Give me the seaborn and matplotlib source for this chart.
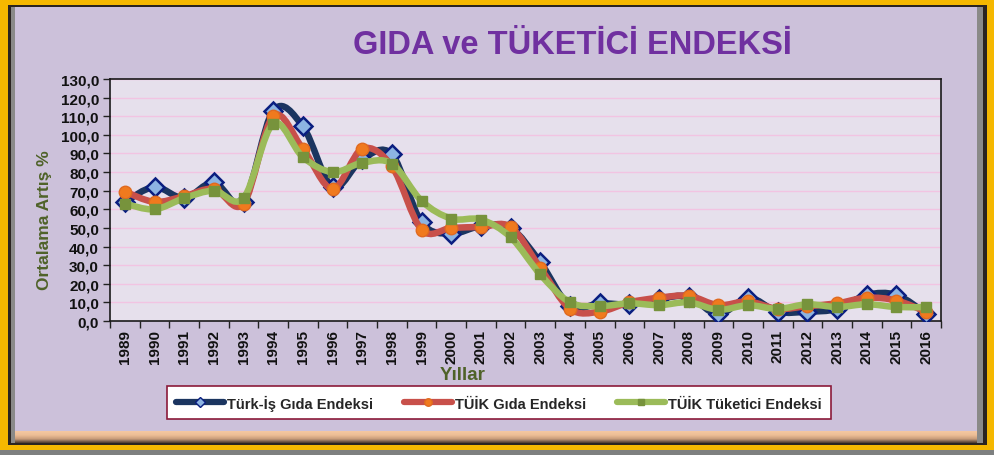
import numpy as np
import pandas as pd
import matplotlib
matplotlib.use("Agg")
import matplotlib.pyplot as plt
import seaborn as sns
from matplotlib.path import Path
from matplotlib.patches import PathPatch, Rectangle
from matplotlib.lines import Line2D
from matplotlib.ticker import FuncFormatter, MultipleLocator
from matplotlib.colors import LinearSegmentedColormap

years = [str(y) for y in range(1989, 2017)]
turkis_gida = [64, 72, 66, 74.5, 64, 113, 104.5, 72, 87, 89.5, 53, 47, 51, 50, 31.5,
               8, 9.5, 9, 12, 13, 3.5, 12.5, 5, 5, 6.5, 14, 14, 4]
tuik_gida = [69.5, 64, 67, 71, 63, 110, 92.5, 71, 92.5, 83, 49, 50, 50.5, 50.5, 28.5,
             6.5, 5, 10, 12.5, 13.5, 8.5, 10.5, 6.5, 8, 9.5, 12.5, 11, 5]
tuik_tuketici = [63, 60, 66, 70, 66, 106, 88, 80, 85, 84.5, 64.5, 55, 54.5, 45, 25,
                 10, 8, 9.5, 8.5, 10, 6, 8.5, 6.5, 9, 7.5, 9, 7.5, 7.5]
series_names = ["Türk-İş Gıda Endeksi", "TÜİK Gıda Endeksi", "TÜİK Tüketici Endeksi"]

sns.set_theme(style="white")
plt.rcParams['font.family'] = ['Liberation Sans', 'DejaVu Sans']

W, H = 995, 456
fig = plt.figure(figsize=(W / 100, H / 100), dpi=100)
fig.patch.set_facecolor('#F5B800')

def px_rect(x0, y0, x1, y1, color, z=-10):
    fig.patches.append(Rectangle((x0 / W, 1 - y1 / H), (x1 - x0) / W, (y1 - y0) / H,
                                 transform=fig.transFigure, facecolor=color,
                                 edgecolor='none', zorder=z))

# frame
px_rect(0, 451, 995, 456, '#7E8080', -12)
px_rect(8, 6, 987, 446, '#2A2420', -11)
px_rect(11, 8, 983, 444, '#8A8A88', -10.5)
px_rect(15, 8, 977, 432, '#CCC1DA', -10)
gax = fig.add_axes([15 / W, 1 - 444 / H, 962 / W, 12 / H], zorder=-5)
grad = np.linspace(0, 1, 50).reshape(-1, 1)
cmap = LinearSegmentedColormap.from_list('b', ['#F4C8A2', '#EDBE96', '#C89C7A', '#4A3A30'])
gax.imshow(grad, aspect='auto', cmap=cmap)
gax.axis('off')

ax = fig.add_axes([110 / W, 1 - 322 / H, 831 / W, 242 / H])
ax.set_facecolor('#E6E0EC')

x = np.arange(len(years))
df = pd.DataFrame({'idx': np.tile(x, 3),
                   'value': turkis_gida + tuik_gida + tuik_tuketici,
                   'series': np.repeat(series_names, len(years))})

styles = {
    series_names[0]: dict(line='#1B3560', marker='D', mfc='#8DB4E2', mec='#0A1E80', ms=9, mew=1.8),
    series_names[1]: dict(line='#C8504A', marker='o', mfc='#F07A1E', mec='#E06A20', ms=9, mew=1),
    series_names[2]: dict(line='#9BBB59', marker='s', mfc='#77933C', mec='#77933C', ms=7, mew=1),
}

def smooth_path(xs, ys):
    xs = np.asarray(xs, float); ys = np.asarray(ys, float)
    n = len(xs)
    verts = [(xs[0], ys[0])]
    codes = [Path.MOVETO]
    for i in range(n - 1):
        im1 = max(i - 1, 0); ip2 = min(i + 2, n - 1)
        c1 = (xs[i] + (xs[i + 1] - xs[im1]) / 6, ys[i] + (ys[i + 1] - ys[im1]) / 6)
        c2 = (xs[i + 1] - (xs[ip2] - xs[i]) / 6, ys[i + 1] - (ys[ip2] - ys[i]) / 6)
        verts += [c1, c2, (xs[i + 1], ys[i + 1])]
        codes += [Path.CURVE4] * 3
    return Path(verts, codes)

z = 3
for name in series_names:
    st = styles[name]
    sub = df[df.series == name]
    ax.add_patch(PathPatch(smooth_path(sub.idx, sub.value), facecolor='none',
                           edgecolor=st['line'], lw=4.7, capstyle='round',
                           joinstyle='round', zorder=z))
    sns.lineplot(data=sub, x='idx', y='value', ax=ax, linestyle='', marker=st['marker'],
                 markersize=st['ms'], markerfacecolor=st['mfc'], markeredgecolor=st['mec'],
                 markeredgewidth=st['mew'], color=st['line'], zorder=z + 0.5, legend=False)
    z += 1

ax.set_xlim(-0.5, len(years) - 0.5)
ax.set_ylim(0, 130)
ax.yaxis.set_major_locator(MultipleLocator(10))
ax.yaxis.set_major_formatter(FuncFormatter(lambda v, p: f"{v:.1f}".replace('.', ',')))
ax.set_xticks(x)
ax.set_xticklabels(years, rotation=90)
ax.set_xticks(np.arange(-0.5, len(years), 1), minor=True)
ax.tick_params(axis='x', which='major', length=0, pad=6, labelsize=11)
ax.tick_params(axis='x', which='minor', length=5, width=1, color='#222222', direction='out', bottom=True)
ax.tick_params(axis='y', length=5, width=1, color='#222222', direction='out', left=True,
               labelsize=11, pad=3)
for lab in ax.get_xticklabels() + ax.get_yticklabels():
    lab.set_fontweight('bold')
    lab.set_color('#111111')
ax.grid(axis='y', color='#F2C4E2', lw=1)
ax.set_axisbelow(True)
for s in ax.spines.values():
    s.set_visible(True)
    s.set_color('#1A1A1A')
    s.set_linewidth(1.2)
ax.set_xlabel('')
ax.set_ylabel('')

fig.text(572 / W, 1 - 45 / H, 'GIDA ve TÜKETİCİ ENDEKSİ', ha='center', va='center',
         fontsize=23.5, fontweight='bold', color='#7030A0',
         family=['Liberation Sans Narrow', 'Liberation Sans', 'DejaVu Sans'])
fig.text(45 / W, 1 - 220 / H, 'Ortalama Artış %', rotation=90, ha='center', va='center',
         fontsize=12.5, fontweight='bold', color='#4F6228')
fig.text(463 / W, 1 - 376 / H, 'Yıllar', ha='center', va='center',
         fontsize=13.5, fontweight='bold', color='#4F6228')

handles = [Line2D([0], [0], color=styles[n]['line'], lw=4.5, marker=styles[n]['marker'],
                  markersize=styles[n]['ms'] * 0.6, markerfacecolor=styles[n]['mfc'],
                  markeredgecolor=styles[n]['mec']) for n in series_names]
leg = fig.legend(handles, series_names, loc='center', ncol=3,
                 bbox_to_anchor=(160 / W, 1 - 422 / H, 678 / W, 37 / H), mode='expand',
                 frameon=True, fancybox=False, edgecolor='#8B1A3A', facecolor='white',
                 framealpha=1, handlelength=3.3, handletextpad=0.2, borderpad=0.6,
                 prop={'family': ['Liberation Sans Narrow', 'Liberation Sans'], 'size': 10.5,
                       'weight': 'bold'})
leg.get_frame().set_linewidth(1.2)

fig.savefig('out.png', dpi=100, facecolor=fig.get_facecolor())
